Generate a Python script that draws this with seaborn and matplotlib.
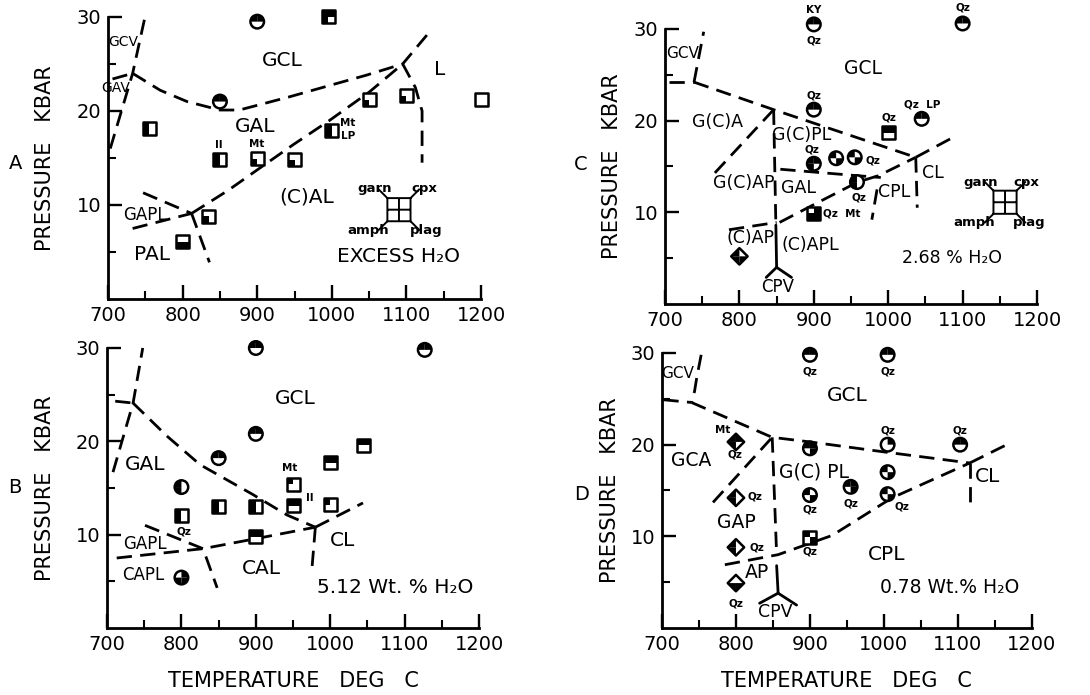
import matplotlib
matplotlib.use("Agg")
import matplotlib.pyplot as plt
from matplotlib.path import Path
import pandas as pd
import seaborn as sns

# ---------------- data (temperature deg C, pressure kbar) ----------------
# fills: quadrants that are black  ul=garn  ur=cpx  ll=amph  lr=plag

A_lines = [
    [(703, 16), (733, 24), (749, 29.8)],
    [(706, 23.4), (733, 24)],
    [(733, 24), (770, 22.2), (806, 21), (850, 20.1), (876, 20.1), (943, 21.5),
     (1001, 22.8), (1046, 23.8), (1095, 25), (1133, 28.6)],
    [(1095, 25), (1112, 22.5), (1121, 20), (1121, 14.5)],
    [(812, 9.1), (860, 11.5), (903, 13.9), (948, 16.4), (997, 19), (1050, 22), (1095, 25)],
    [(747, 11.3), (812, 9.1)],
    [(733, 7.5), (812, 9.1)],
    [(812, 9.1), (836, 3.9)],
]
A_solid = []
A_T = [900, 995, 850, 755, 850, 900, 950, 1000, 1050, 1100, 1200, 835, 800]
A_P = [29.5, 30, 21, 18.1, 14.8, 14.9, 14.8, 17.9, 21.2, 21.6, 21.2, 8.8, 6.1]
A_shape = ["o", "s", "o", "s", "s", "s", "s", "s", "s", "s", "s", "s", "s"]
A_fill = ["ul ur", "ul ur ll", "ul ur", "ul ll", "ul ll", "ll", "ll", "ul ll", "ll", "ll", "", "ll", "ll lr"]
A_labels = [("GCL", 933, 25.4, 14.5), ("L", 1144, 24.4, 14.5), ("GAL", 897, 18.4, 14.5),
            ("(C)AL", 966, 10.9, 14.5), ("PAL", 759, 4.7, 14.5), ("GAPL", 749, 8.9, 12),
            ("GCV", 720, 27.3, 10), ("GAV", 710, 22.4, 10), ("EXCESS H₂O", 1090, 4.5, 14.5)]
A_small = [("Il", 849, 16.4), ("Mt", 899, 16.5), ("Mt", 1021, 18.7), ("LP", 1022, 17.3)]
A_key = (1090, 9.5, 1057, 1124, 11.8, 7.3)

B_lines = [
    [(708, 16.7), (735, 24.1), (748, 30)],
    [(711, 24.3), (735, 24.1)],
    [(735, 24.1), (780, 20.6), (825, 17.5), (896, 14.3), (942, 12.1), (980, 10.8)],
    [(980, 10.8), (1044, 13.4)],
    [(980, 10.8), (975, 6.0)],
    [(713, 7.5), (829, 8.5), (902, 9.6), (980, 10.8)],
    [(751, 11), (829, 8.5), (848, 4.3)],
]
B_solid = []
B_T = [900, 1127, 900, 850, 800, 800, 850, 900, 900, 950, 950, 1000, 1000, 1045, 800]
B_P = [30, 29.8, 20.8, 18.2, 15.1, 12.1, 13, 13, 9.8, 15.4, 13.1, 17.7, 13.2, 19.6, 5.4]
B_shape = ["o", "o", "o", "o", "o", "s", "s", "s", "s", "s", "s", "s", "s", "s", "o"]
B_fill = ["ul ur", "ul ur", "ul ur", "ul ur", "ul ll", "ul ll", "ul ll", "ul ll", "ul ur",
          "ul", "ul ur", "ul ur", "ul", "ul ur", "ur ll lr"]
B_labels = [("GCL", 953, 24.6, 14.5), ("GAL", 751, 17.5, 14.5), ("GAPL", 751, 9.0, 12),
            ("CAPL", 749, 5.7, 12), ("CAL", 908, 6.4, 14.5), ("CL", 1017, 9.4, 14.5),
            ("5.12 Wt. % H₂O", 1087, 4.3, 14.5)]
B_small = [("Mt", 946, 17.1), ("Il", 972, 13.9), ("Qz", 803, 10.3)]

C_lines = [
    [(739, 24.2), (752, 29.7)],
    [(705, 24.2), (739, 24.2)],
    [(739, 24.2), (846, 21.2), (1037, 16)],
    [(1037, 16), (1090, 18.3)],
    [(1037, 16), (1039, 10.5)],
    [(854, 8.9), (899, 10.8), (959, 13.3), (987, 14), (1037, 16)],
    [(786, 8.1), (850, 8.9)],
    [(846, 21.2), (849, 8.6)],
    [(767, 14.3), (846, 21.2)],
    [(855, 14.7), (958, 14), (990, 13.8)],
    [(985, 12.5), (978, 9.2)],
]
C_solid = [
    [(849, 8.6), (850, 4)],
    [(836, 2.9), (850, 4), (870, 2.9)],
]
C_T = [900, 1100, 900, 1045, 1000, 900, 930, 955, 958, 900, 800]
C_P = [30.5, 30.6, 21.2, 20.2, 18.7, 15.3, 15.9, 16, 13.3, 9.9, 5.2]
C_shape = ["o", "o", "o", "o", "s", "o", "o", "o", "o", "s", "D"]
C_fill = ["ul ur", "ul ur", "ul ur", "ul ur", "ul ur", "ul ur ll", "ul lr", "ul lr",
          "ul ll", "ur ll lr", "ul ll lr"]
C_labels = [("GCV", 723, 27.3, 11), ("GCL", 966, 25.7, 13.5), ("G(C)A", 770, 19.9, 12.5),
            ("G(C)PL", 884, 18.4, 12.5), ("G(C)AP", 806, 13.2, 12.5), ("GAL", 880, 12.6, 12.5),
            ("CPL", 1008, 12.2, 12.5), ("CL", 1060, 14.3, 12.5), ("(C)AP", 815, 7.2, 12.5),
            ("(C)APL", 895, 6.4, 12.5), ("CPV", 852, 1.8, 12), ("2.68 % H₂O", 1086, 5.0, 12.5)]
C_small = [("KY", 900, 32.1), ("Qz", 900, 28.7), ("Qz", 1100, 32.3), ("Qz", 900, 22.7),
           ("Qz  LP", 1045, 21.8), ("Qz", 1001, 20.3), ("Qz", 898, 16.8), ("Qz", 980, 15.7),
           ("Qz", 960, 11.6), ("Qz  Mt", 938, 9.9)]
C_key = (1157, 11.1, 1124, 1186, 13.3, 8.9)

D_lines = [
    [(753, 29.8), (747, 27.3), (744, 25.8), (740, 24.6)],
    [(702, 24.9), (740, 24.6)],
    [(740, 24.6), (849, 20.8), (900, 20.3), (1001, 19.2), (1116, 18)],
    [(1116, 18), (1166, 20)],
    [(1116, 18), (1116, 13.6)],
    [(785, 6.9), (857, 8), (930, 10.1), (1011, 14.2), (1116, 18)],
    [(769, 13.7), (849, 20.8)],
    [(849, 20.8), (855, 8.0)],
]
D_solid = [
    [(855, 6.8), (857, 3.8)],
    [(832, 2.7), (857, 3.8), (882, 2.5)],
]
D_T = [900, 1005, 800, 900, 1005, 1103, 800, 900, 955, 1005, 1005, 900, 800, 800]
D_P = [29.8, 29.8, 20.3, 19.6, 20, 20, 14.2, 14.5, 15.4, 17, 14.6, 9.9, 8.8, 4.9]
D_shape = ["o", "o", "D", "o", "o", "o", "D", "o", "o", "o", "o", "s", "D", "D"]
D_fill = ["ul ur", "ul ur", "ul ur ll", "ul ur lr", "ur", "ul ur", "ul ll", "ul lr",
          "ul ur lr", "ul lr", "ul lr", "ul lr", "ul ll", "ll lr"]
D_labels = [("GCV", 721, 27.8, 11), ("GCL", 950, 25.4, 14.5), ("GCA", 740, 18.3, 13.5),
            ("G(C) PL", 906, 17.0, 13.5), ("GAP", 801, 11.5, 13.5), ("AP", 829, 6.0, 13.5),
            ("CPV", 853, 1.8, 12.5), ("CPL", 1004, 8.0, 14.5), ("CL", 1140, 16.5, 14.5),
            ("0.78 Wt.% H₂O", 1089, 4.4, 13.5)]
D_small = [("Qz", 900, 28.0), ("Qz", 1005, 28.0), ("Mt", 782, 21.6), ("Qz", 798, 18.9),
           ("Qz", 1005, 21.5), ("Qz", 1103, 21.5), ("Qz", 826, 14.3), ("Qz", 900, 12.9),
           ("Qz", 955, 13.6), ("Qz", 1024, 13.2), ("Qz", 900, 8.3), ("Qz", 828, 8.8),
           ("Qz", 800, 2.7)]

# ---------------- marker shapes ----------------
def poly(pts):
    return Path(pts + [pts[0]], closed=True)

OUTLINE = {
    "s": poly([(-1, -1), (1, -1), (1, 1), (-1, 1)]),
    "o": Path.unit_circle(),
    "D": poly([(0, 1), (1, 0), (0, -1), (-1, 0)]),
}
QUAD = {
    "s": {"ul": poly([(-1, 0), (0, 0), (0, 1), (-1, 1)]),
          "ur": poly([(0, 0), (1, 0), (1, 1), (0, 1)]),
          "ll": poly([(-1, -1), (0, -1), (0, 0), (-1, 0)]),
          "lr": poly([(0, -1), (1, -1), (1, 0), (0, 0)])},
    "o": {"ul": Path.wedge(90, 180), "ur": Path.wedge(0, 90),
          "ll": Path.wedge(180, 270), "lr": Path.wedge(270, 360)},
    "D": {"ul": poly([(0, 0), (-1, 0), (0, 1)]), "ur": poly([(0, 0), (0, 1), (1, 0)]),
          "ll": poly([(0, 0), (0, -1), (-1, 0)]), "lr": poly([(0, 0), (1, 0), (0, -1)])},
}
SIZE = {"s": 88, "o": 95, "D": 140}

key_codes = [Path.MOVETO, Path.LINETO, Path.LINETO, Path.LINETO, Path.CLOSEPOLY,
             Path.MOVETO, Path.LINETO, Path.MOVETO, Path.LINETO,
             Path.MOVETO, Path.LINETO, Path.MOVETO, Path.LINETO,
             Path.MOVETO, Path.LINETO, Path.MOVETO, Path.LINETO]
key_verts = [(-1, -1), (1, -1), (1, 1), (-1, 1), (-1, -1),
             (-1, 0), (1, 0), (0, -1), (0, 1),
             (-1, 1), (-1.8, 1.8), (1, 1), (1.8, 1.8),
             (-1, -1), (-1.8, -1.8), (1, -1), (1.8, -1.8)]
KEY = Path(key_verts, key_codes)

DASH = (0, (5.5, 3))


def draw_panel(ax, lines, solid, T, P, shapes, fills, labels, small, key=None):
    for seg in lines:
        xs, ys = zip(*seg)
        sns.lineplot(x=list(xs), y=list(ys), sort=False, estimator=None, color="black",
                     lw=2.0, linestyle=DASH, ax=ax, clip_on=False, zorder=2)
    for seg in solid:
        xs, ys = zip(*seg)
        sns.lineplot(x=list(xs), y=list(ys), sort=False, estimator=None, color="black",
                     lw=2.0, ax=ax, clip_on=False, zorder=2)

    df = pd.DataFrame({"T": T, "P": P, "shape": shapes, "fill": fills})
    for shp, grp in df.groupby("shape"):
        s = SIZE[shp]
        sns.scatterplot(data=grp, x="T", y="P", marker=OUTLINE[shp], s=s, color="white",
                        edgecolor="none", linewidth=0, ax=ax, zorder=4, clip_on=False, legend=False)
        for q in ["ul", "ur", "ll", "lr"]:
            sub = grp[grp["fill"].str.contains(q)]
            if len(sub):
                sns.scatterplot(data=sub, x="T", y="P", marker=QUAD[shp][q], s=s, color="black",
                                edgecolor="none", linewidth=0, ax=ax, zorder=5,
                                clip_on=False, legend=False)
        sns.scatterplot(data=grp, x="T", y="P", marker=OUTLINE[shp], s=s, color="black",
                        facecolor="none", edgecolor="black", linewidth=1.8, ax=ax,
                        zorder=6, clip_on=False, legend=False)

    for txt, x, y, fs in labels:
        ax.text(x, y, txt, ha="center", va="center", fontsize=fs, zorder=7)
    for txt, x, y in small:
        ax.text(x, y, txt, ha="center", va="center", fontsize=7.5, fontweight="bold", zorder=7)

    if key is not None:
        kx, ky, xl, xr, yt, yb = key
        sns.scatterplot(x=[kx], y=[ky], marker=KEY, s=900, color="black", facecolor="none",
                        edgecolor="black", linewidth=1.4, ax=ax, zorder=6, legend=False)
        for txt, x, y in [("garn", xl, yt), ("cpx", xr, yt), ("amph", xl - 8, yb), ("plag", xr + 3, yb)]:
            ax.text(x, y, txt, ha="center", va="center", fontsize=9.5, fontweight="bold")

    ax.set_xlim(700, 1200)
    ax.set_ylim(0, 30)
    ax.set_xticks(range(700, 1201, 100))
    ax.set_xticks(range(750, 1200, 100), minor=True)
    ax.set_yticks([10, 20, 30])
    ax.set_yticks([5, 15, 25], minor=True)
    ax.tick_params(which="major", direction="in", length=10, width=1.7, labelsize=14, pad=5,
                   colors="black")
    ax.tick_params(which="minor", direction="in", length=6, width=1.5, colors="black")
    ax.set_xlabel("")
    ax.set_ylabel("")
    ax.set_facecolor("white")
    sns.despine(ax=ax)
    for sp in ["left", "bottom"]:
        ax.spines[sp].set_linewidth(2.0)
        ax.spines[sp].set_color("black")


sns.set_theme(style="ticks")
plt.rcParams["font.family"] = ["DejaVu Sans"]
plt.rcParams["text.color"] = "black"
plt.rcParams["axes.labelcolor"] = "black"
plt.rcParams["xtick.color"] = "black"
plt.rcParams["ytick.color"] = "black"

fig = plt.figure(figsize=(10.9, 6.95), dpi=100)
fig.patch.set_facecolor("white")

axA = fig.add_axes([0.0991, 0.5698, 0.3422, 0.4058])
axC = fig.add_axes([0.6101, 0.5626, 0.3413, 0.3957])
axB = fig.add_axes([0.0982, 0.0964, 0.3413, 0.4029])
axD = fig.add_axes([0.6073, 0.0964, 0.3394, 0.3957])

draw_panel(axA, A_lines, A_solid, A_T, A_P, A_shape, A_fill, A_labels, A_small, A_key)
draw_panel(axB, B_lines, B_solid, B_T, B_P, B_shape, B_fill, B_labels, B_small)
draw_panel(axC, C_lines, C_solid, C_T, C_P, C_shape, C_fill, C_labels, C_small, C_key)
draw_panel(axD, D_lines, D_solid, D_T, D_P, D_shape, D_fill, D_labels, D_small)

for ax, xpos in [(axA, -0.142), (axB, -0.14), (axC, -0.115), (axD, -0.114)]:
    ax.set_ylabel("PRESSURE   KBAR", fontsize=15)
    ax.yaxis.set_label_coords(xpos, 0.5)
for ax in [axB, axD]:
    ax.set_xlabel("TEMPERATURE   DEG   C", fontsize=15)
    ax.xaxis.set_label_coords(0.5, -0.155)

for letter, x, y in [("A", 0.014, 0.765), ("B", 0.014, 0.299), ("C", 0.533, 0.763), ("D", 0.534, 0.288)]:
    fig.text(x, y, letter, fontsize=14, ha="center", va="center")

fig.savefig("out.png", dpi=100)
